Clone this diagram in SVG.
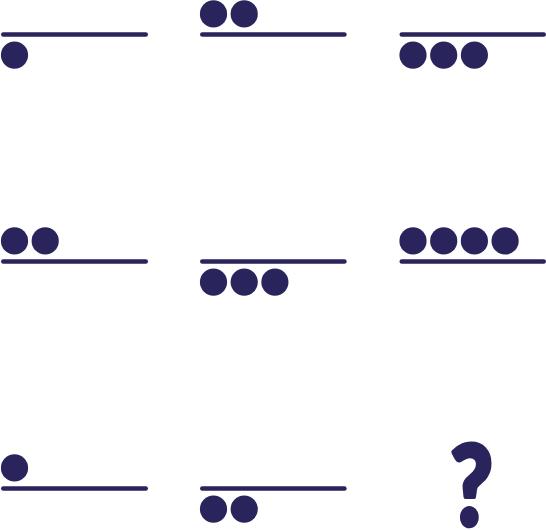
<svg xmlns="http://www.w3.org/2000/svg" width="546" height="530" viewBox="0 0 546 530">
<style>
.bar{stroke:#2a245c;stroke-width:4.6;stroke-linecap:round;fill:none}
.dot{fill:#2a245c}
.q{fill:#2a245c;stroke:#2a245c;stroke-width:4.5;stroke-linejoin:round;font-family:Lato,"Open Sans",sans-serif;font-weight:900;font-size:108px;text-anchor:middle}
</style>
<rect width="546" height="530" fill="#ffffff"/>
<g id="cell-1-1">
<line class="bar" x1="3.3" y1="34.5" x2="145.7" y2="34.5"/>
<circle class="dot" cx="14.5" cy="55.1" r="13.6"/>
</g>
<g id="cell-1-2">
<line class="bar" x1="202.3" y1="34.5" x2="344.4" y2="34.5"/>
<circle class="dot" cx="213.5" cy="13.9" r="13.6"/>
<circle class="dot" cx="244.2" cy="13.9" r="13.6"/>
</g>
<g id="cell-1-3">
<line class="bar" x1="401.8" y1="34.5" x2="543.7" y2="34.5"/>
<circle class="dot" cx="413" cy="55.1" r="13.6"/>
<circle class="dot" cx="443.7" cy="55.1" r="13.6"/>
<circle class="dot" cx="474.4" cy="55.1" r="13.6"/>
</g>
<g id="cell-2-1">
<line class="bar" x1="3.3" y1="261.5" x2="145.7" y2="261.5"/>
<circle class="dot" cx="14.5" cy="240.9" r="13.6"/>
<circle class="dot" cx="45.2" cy="240.9" r="13.6"/>
</g>
<g id="cell-2-2">
<line class="bar" x1="202.3" y1="261.5" x2="344.4" y2="261.5"/>
<circle class="dot" cx="213.5" cy="282.1" r="13.6"/>
<circle class="dot" cx="244.2" cy="282.1" r="13.6"/>
<circle class="dot" cx="274.9" cy="282.1" r="13.6"/>
</g>
<g id="cell-2-3">
<line class="bar" x1="401.8" y1="261.5" x2="543.7" y2="261.5"/>
<circle class="dot" cx="413" cy="240.9" r="13.6"/>
<circle class="dot" cx="443.7" cy="240.9" r="13.6"/>
<circle class="dot" cx="474.4" cy="240.9" r="13.6"/>
<circle class="dot" cx="505.1" cy="240.9" r="13.6"/>
</g>
<g id="cell-3-1">
<line class="bar" x1="3.3" y1="488.5" x2="145.7" y2="488.5"/>
<circle class="dot" cx="14.5" cy="467.9" r="13.6"/>
</g>
<g id="cell-3-2">
<line class="bar" x1="202.3" y1="488.5" x2="344.4" y2="488.5"/>
<circle class="dot" cx="213.5" cy="509.1" r="13.6"/>
<circle class="dot" cx="244.2" cy="509.1" r="13.6"/>
</g>
<g id="cell-3-3">
<text class="q" transform="translate(471.5,525) scale(0.85,1.03)" x="0" y="0">?</text>
</g>
</svg>
